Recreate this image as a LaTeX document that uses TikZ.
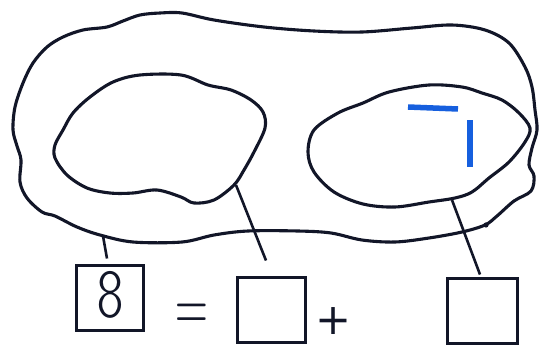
\documentclass[tikz,border=0pt]{standalone}
\usepackage{fontspec}
\usepackage{tikz}
\usetikzlibrary{positioning, calc}
\newfontfamily\signfont{DejaVu Sans}
\definecolor{inkdark}{RGB}{18,22,40}
\definecolor{markblue}{RGB}{22,95,222}

\begin{document}
\begin{tikzpicture}[
    x=1pt, y=-1pt,
    outline/.style={draw=inkdark, line width=3.1pt, line join=round},
    link/.style={draw=inkdark, line width=2.6pt},
    numbox/.style={
      rectangle, draw=inkdark, line width=3pt,
      minimum width=67pt, minimum height=65pt, inner sep=0pt
    },
    bluestroke/.style={draw=markblue, line width=5.5pt},
    sign/.style={inner sep=0pt, text=inkdark}
  ]
    \useasboundingbox (0,0) rectangle (544,345);

    \draw[outline] plot[smooth cycle, tension=0.55] coordinates {
      (13,130) (15,107) (23,83) (33,63) (47,47) (63,37) (83,30) (107,27)
      (123,21) (140,15) (160,13) (182,13) (214,20) (264,27) (314,31)
      (362,32) (412,28) (452,25) (485,30) (509,43) (525,67) (532,87)
      (535,110) (537,130) (532,148) (529,165) (534,176) (531,191)
      (514,201) (497,216) (485,225) (462,232) (429,238) (395,242)
      (362,240) (331,233) (298,231) (248,231) (214,235) (182,242)
      (133,242) (100,235) (77,227) (55,216) (42,212) (27,198) (20,182)
      (21,160) (17,146)};
    \fill[inkdark] (486,225) circle (2.6pt);

    \draw[outline] plot[smooth cycle, tension=0.55] coordinates {
      (55,158) (55,145) (63,130) (73,113) (90,97) (113,82) (140,75)
      (181,75) (208,85) (231,90) (251,100) (263,112) (265,128) (254,152)
      (244,170) (234,185) (214,200) (194,203) (181,197) (157,190)
      (133,193) (110,193) (87,188) (67,175)};

    \draw[outline] plot[smooth cycle, tension=0.55] coordinates {
      (308,152) (314,130) (338,113) (363,103) (389,92) (429,85) (462,87)
      (482,93) (502,100) (519,113) (530,128) (525,142) (509,162)
      (489,178) (472,192) (455,198) (429,202) (395,207) (363,204)
      (334,192) (314,172)};

    \draw[bluestroke] (408,107) -- (458,109);
    \draw[bluestroke] (470,120) -- (470,167);

    \coordinate (outerfoot) at (103,236);
    \coordinate (leftfoot) at (236,185);
    \coordinate (rightfoot) at (452,200);

    \node[numbox] (whole) at (110,297.5) {};
    \node[inner sep=0pt, text=inkdark,
      font=\fontsize{74}{74}\selectfont\fontseries{lc}\ttfamily]
      (eight) at (110,295) {8};
    \node[numbox, minimum width=68pt] (partleft) at (271,309.5) {};
    \node[numbox, minimum width=70pt] (partright) at (482,310.5) {};

    \node[sign, anchor=base, font=\fontsize{77}{77}\selectfont] (equals)
      at (192,331.5) {\scalebox{0.59}[1]{=}};
    \node[sign, font=\fontsize{43}{43}\selectfont\signfont] (plus)
      at (334,321) {+};

    \draw[link] (outerfoot) -- ([xshift=-3pt, yshift=5pt]whole.north);
    \draw[link] (leftfoot) -- ([xshift=-5pt, yshift=15pt]partleft.north);
    \draw[link] (rightfoot) -- ([xshift=-2pt, yshift=2pt]partright.north);
  \end{tikzpicture}
\end{document}
